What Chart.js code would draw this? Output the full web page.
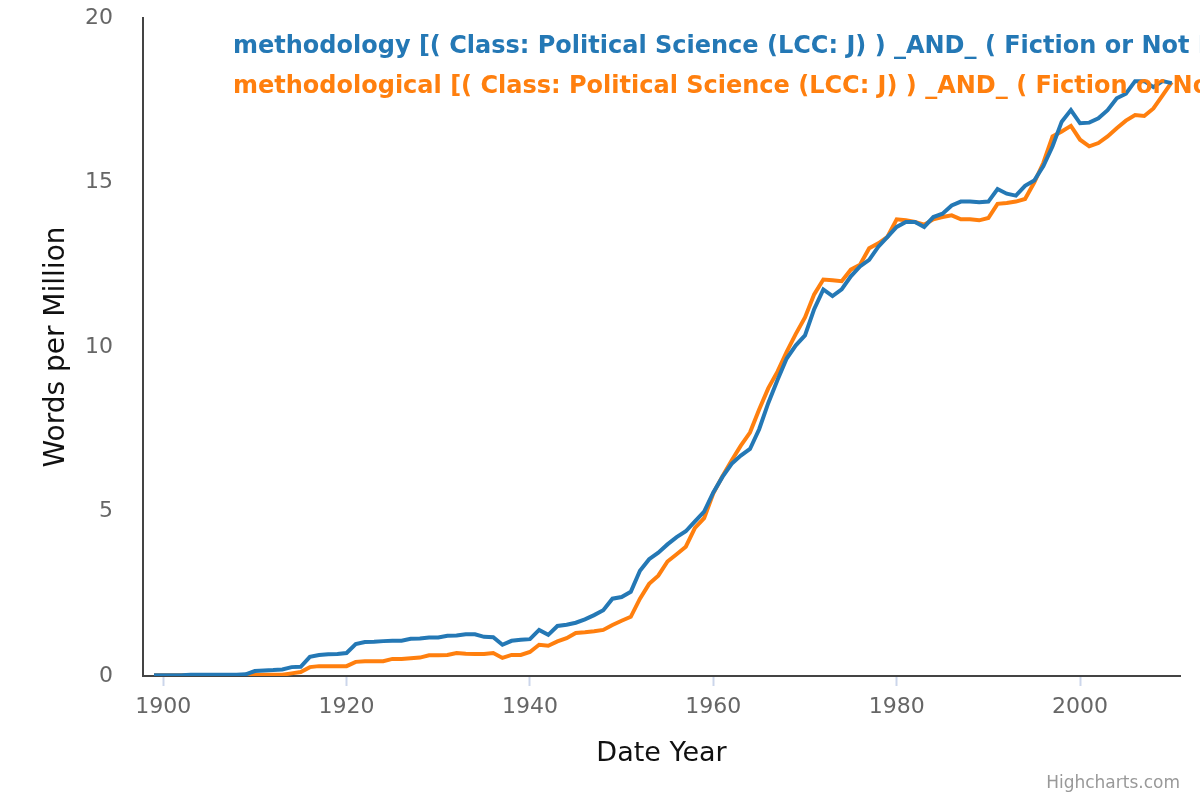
<!DOCTYPE html>
<html>
<head>
<meta charset="utf-8">
<script src="https://cdn.jsdelivr.net/npm/chart.js@4.4.0/dist/chart.umd.min.js"></script>
<style>
  html, body { margin: 0; padding: 0; background: #fff; }
  #wrap { width: 1200px; height: 800px; }
</style>
</head>
<body>
<div id="wrap"><canvas id="chart"></canvas></div>
<script>
// Years on the x axis, one value per year
const startYear = 1899;
const endYear = 2010;

// Words per million for "methodology"
const methodologyValues = [
  0.02, 0.02, 0.02, 0.02, 0.04, 0.04, 0.04, 0.04, 0.04, 0.04, 0.05, // 1899-1909
  0.15, 0.17, 0.18, 0.20, 0.27, 0.28, 0.58, 0.64, 0.66, 0.67,       // 1910-1919
  0.70, 0.97, 1.03, 1.04, 1.06, 1.07, 1.07, 1.13, 1.14, 1.17,       // 1920-1929
  1.17, 1.22, 1.23, 1.27, 1.27, 1.19, 1.18, 0.95, 1.07, 1.10,       // 1930-1939
  1.12, 1.40, 1.25, 1.52, 1.56, 1.62, 1.72, 1.85, 2.00, 2.35,       // 1940-1949
  2.40, 2.56, 3.20, 3.55, 3.75, 4.00, 4.22, 4.40, 4.70, 5.00,       // 1950-1959
  5.58, 6.05, 6.45, 6.70, 6.90, 7.50, 8.30, 9.00, 9.65, 10.05,      // 1960-1969
  10.35, 11.15, 11.75, 11.55, 11.75, 12.15, 12.45, 12.65, 13.05, 13.35, // 1970-1979
  13.65, 13.80, 13.80, 13.65, 13.95, 14.05, 14.30, 14.42, 14.42, 14.40, // 1980-1989
  14.42, 14.80, 14.66, 14.60, 14.90, 15.06, 15.50, 16.10, 16.85, 17.20, // 1990-1999
  16.80, 16.82, 16.95, 17.20, 17.56, 17.70, 18.08, 18.08, 17.90, 18.08, // 2000-2009
  18.02                                                              // 2010
];

// Words per million for "methodological"
const methodologicalValues = [
  0.02, 0.02, 0.02, 0.02, 0.03, 0.03, 0.03, 0.03, 0.03, 0.03, 0.03, // 1899-1909
  0.03, 0.04, 0.04, 0.04, 0.08, 0.12, 0.27, 0.30, 0.30, 0.30,       // 1910-1919
  0.30, 0.43, 0.45, 0.45, 0.45, 0.52, 0.52, 0.54, 0.56, 0.63,       // 1920-1929
  0.63, 0.64, 0.70, 0.68, 0.67, 0.67, 0.70, 0.55, 0.64, 0.64,       // 1930-1939
  0.73, 0.95, 0.92, 1.05, 1.15, 1.31, 1.33, 1.36, 1.40, 1.55,       // 1940-1949
  1.68, 1.80, 2.35, 2.80, 3.05, 3.48, 3.70, 3.93, 4.50, 4.80,       // 1950-1959
  5.55, 6.07, 6.55, 7.00, 7.40, 8.10, 8.75, 9.25, 9.85, 10.40,      // 1960-1969
  10.90, 11.60, 12.05, 12.03, 12.00, 12.35, 12.50, 13.00, 13.15, 13.35, // 1970-1979
  13.88, 13.85, 13.80, 13.72, 13.88, 13.95, 14.00, 13.88, 13.88, 13.85, // 1980-1989
  13.92, 14.35, 14.38, 14.42, 14.50, 15.00, 15.60, 16.40, 16.55, 16.72, // 1990-1999
  16.30, 16.10, 16.20, 16.40, 16.65, 16.88, 17.05, 17.02, 17.25, 17.65, // 2000-2009
  18.05                                                              // 2010
];

const xTickValues = [1900, 1920, 1940, 1960, 1980, 2000];
const yTickValues = [0, 5, 10, 15, 20];

const seriesLabels = [
  "methodology [( Class: Political Science (LCC: J) ) _AND_ ( Fiction or Not Fiction: Not fiction )]",
  "methodological [( Class: Political Science (LCC: J) ) _AND_ ( Fiction or Not Fiction: Not fiction )]"
];
const seriesColors = ["#2478b5", "#ff7f0e"];

// turn a list of values into {x, y} points
function toPoints(values) {
  return values.map((v, i) => ({ x: startYear + i, y: v }));
}

const FONT = "'DejaVu Sans', 'Lucida Grande', sans-serif";

// draws the legend text inside the plot and the credit line
const textPlugin = {
  id: "textPlugin",
  afterDraw(chart) {
    const ctx = chart.ctx;
    ctx.save();
    ctx.textBaseline = "middle";
    ctx.textAlign = "left";
    ctx.font = "bold 24px " + FONT;
    chart.data.datasets.forEach((ds, i) => {
      ctx.fillStyle = ds.borderColor;
      ctx.fillText(ds.label, 233, 47 + i * 40);
    });
    ctx.font = "17px " + FONT;
    ctx.fillStyle = "#999999";
    ctx.textAlign = "right";
    ctx.fillText("Highcharts.com", 1180, 784);
    ctx.restore();
  }
};

const ctx = document.getElementById("chart").getContext("2d");
new Chart(ctx, {
  type: "line",
  data: {
    datasets: [
      {
        label: seriesLabels[0],
        data: toPoints(methodologyValues),
        borderColor: seriesColors[0],
        borderWidth: 4,
        pointRadius: 0,
        tension: 0
      },
      {
        label: seriesLabels[1],
        data: toPoints(methodologicalValues),
        borderColor: seriesColors[1],
        borderWidth: 4,
        pointRadius: 0,
        tension: 0
      }
    ]
  },
  options: {
    responsive: true,
    maintainAspectRatio: false,
    animation: false,
    layout: { padding: { top: 18, right: 20, left: 0, bottom: 0 } },
    plugins: {
      legend: { display: false },
      tooltip: { enabled: false }
    },
    scales: {
      x: {
        type: "linear",
        min: 1897.8,
        max: 2010.9,
        afterFit(scale) {
          scale.height = 124;
          scale.paddingLeft = 0;
          scale.paddingRight = 0;
        },
        afterBuildTicks(scale) {
          scale.ticks = xTickValues.map(v => ({ value: v }));
        },
        grid: {
          drawOnChartArea: false,
          drawTicks: true,
          tickLength: 10,
          tickColor: "#ccd6eb",
          tickWidth: 2
        },
        border: { color: "#444444", width: 2 },
        ticks: {
          color: "#666666",
          font: { family: FONT, size: 22 },
          padding: 8,
          maxRotation: 0,
          callback: v => String(v)
        },
        title: {
          display: true,
          text: "Date Year",
          color: "#111111",
          font: { family: FONT, size: 27 },
          padding: { top: 0, bottom: 30 }
        }
      },
      y: {
        min: 0,
        max: 20,
        afterFit(scale) {
          scale.width = 143;
          scale.paddingTop = 0;
          scale.paddingBottom = 0;
        },
        afterBuildTicks(scale) {
          scale.ticks = yTickValues.map(v => ({ value: v }));
        },
        grid: { drawOnChartArea: false, drawTicks: false },
        border: { color: "#444444", width: 2 },
        ticks: {
          color: "#666666",
          font: { family: FONT, size: 22 },
          padding: 30
        },
        title: {
          display: true,
          text: "Words per Million",
          color: "#111111",
          font: { family: FONT, size: 28 },
          padding: { top: 40, bottom: 0 }
        }
      }
    }
  },
  plugins: [textPlugin]
});
</script>
</body>
</html>
